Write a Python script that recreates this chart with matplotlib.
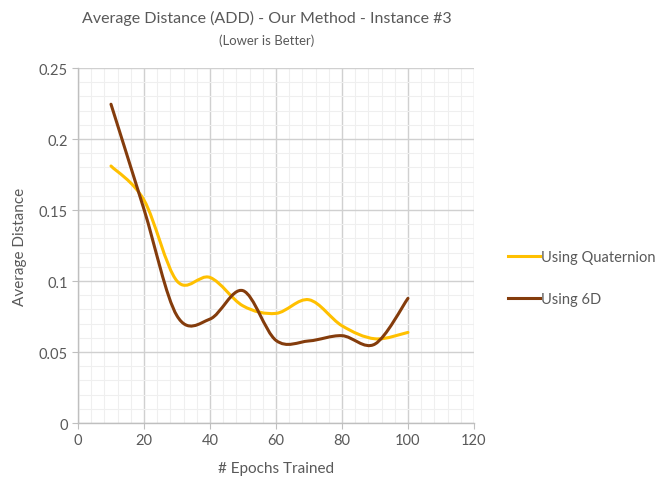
import numpy as np
import matplotlib
matplotlib.use("Agg")
import matplotlib.pyplot as plt
from matplotlib.path import Path
from matplotlib.patches import PathPatch
from matplotlib.lines import Line2D

plt.rcParams['font.family'] = ['Lato', 'DejaVu Sans']

epochs = [10, 20, 30, 40, 50, 60, 70, 80, 90, 100]
quaternion = [0.181, 0.157, 0.100, 0.1025, 0.0825, 0.0772, 0.0868, 0.0685, 0.0593, 0.0638]
six_d = [0.2245, 0.1505, 0.0755, 0.0732, 0.0932, 0.0582, 0.0578, 0.0615, 0.0556, 0.0878]
series_names = ["Using Quaternion", "Using 6D"]
series_colors = ["#FFC000", "#843C0C"]

TEXT = "#595959"


def smooth_path(xs, ys):
    """Catmull-Rom style Bezier path through every point (spreadsheet 'smoothed line')."""
    pts = np.column_stack([xs, ys]).astype(float)
    n = len(pts)
    verts = [pts[0]]
    codes = [Path.MOVETO]
    for i in range(n - 1):
        p0 = pts[i - 1] if i > 0 else pts[i]
        p1 = pts[i]
        p2 = pts[i + 1]
        p3 = pts[i + 2] if i + 2 < n else pts[i + 1]
        c1 = p1 + (p2 - p0) / 6.0
        c2 = p2 - (p3 - p1) / 6.0
        verts += [c1, c2, p2]
        codes += [Path.CURVE4] * 3
    return Path(verts, codes)


def fit_width(fig, txt, width_px):
    """Scale a text's font size so it spans the given pixel width."""
    r = fig.canvas.get_renderer()
    w = txt.get_window_extent(renderer=r).width
    txt.set_fontsize(txt.get_fontsize() * width_px / w)


fig = plt.figure(figsize=(6.61, 4.81), dpi=100)
ax = fig.add_axes([0.118, 0.1185, 0.599, 0.738])

ax.set_xlim(0, 120)
ax.set_ylim(0, 0.25)
ax.set_xticks(np.arange(0, 121, 20))
ax.set_yticks([0, 0.05, 0.1, 0.15, 0.2, 0.25])
ax.set_yticklabels(["0", "0.05", "0.1", "0.15", "0.2", "0.25"])
ax.set_xticks(np.arange(0, 121, 4), minor=True)
ax.set_yticks(np.arange(0, 0.2501, 0.01), minor=True)
ax.grid(which='major', color='#d0d0d0', linewidth=1.0)
ax.grid(which='minor', color='#efefef', linewidth=0.8)
ax.set_axisbelow(True)

for s in ['top', 'right']:
    ax.spines[s].set_visible(False)
for s in ['left', 'bottom']:
    ax.spines[s].set_color('#bfbfbf')
    ax.spines[s].set_linewidth(1.0)
ax.tick_params(which='major', length=4, color='#bfbfbf', labelcolor=TEXT, labelsize=10.5)
ax.tick_params(which='minor', length=0)

for ys, color in zip([quaternion, six_d], series_colors):
    patch = PathPatch(smooth_path(epochs, ys), facecolor='none', edgecolor=color,
                      linewidth=2.2, capstyle='round', joinstyle='round')
    ax.add_patch(patch)

ax.set_xlabel("# Epochs Trained", color=TEXT, fontsize=11, labelpad=10)
ax.set_ylabel("Average Distance", color=TEXT, fontsize=11, labelpad=8)

title = fig.text(0.404, 0.962, "Average Distance (ADD) - Our Method - Instance #3",
                 ha='center', va='center', color=TEXT, fontsize=13)
subtitle = fig.text(0.404, 0.916, "(Lower is Better)", ha='center', va='center',
                    color=TEXT, fontsize=10.5)
fit_width(fig, title, 370)
fit_width(fig, subtitle, 96)

handles = [Line2D([], [], color=c, linewidth=2.2) for c in series_colors]
leg = fig.legend(handles, series_names, loc='center left',
                 bbox_to_anchor=(0.748, 0.345, 0.25, 0.15), frameon=False,
                 fontsize=10.5, labelcolor=TEXT, handlelength=2.2,
                 handletextpad=0.1, labelspacing=1.9)

fig.savefig("out.png", dpi=100, facecolor='white')
